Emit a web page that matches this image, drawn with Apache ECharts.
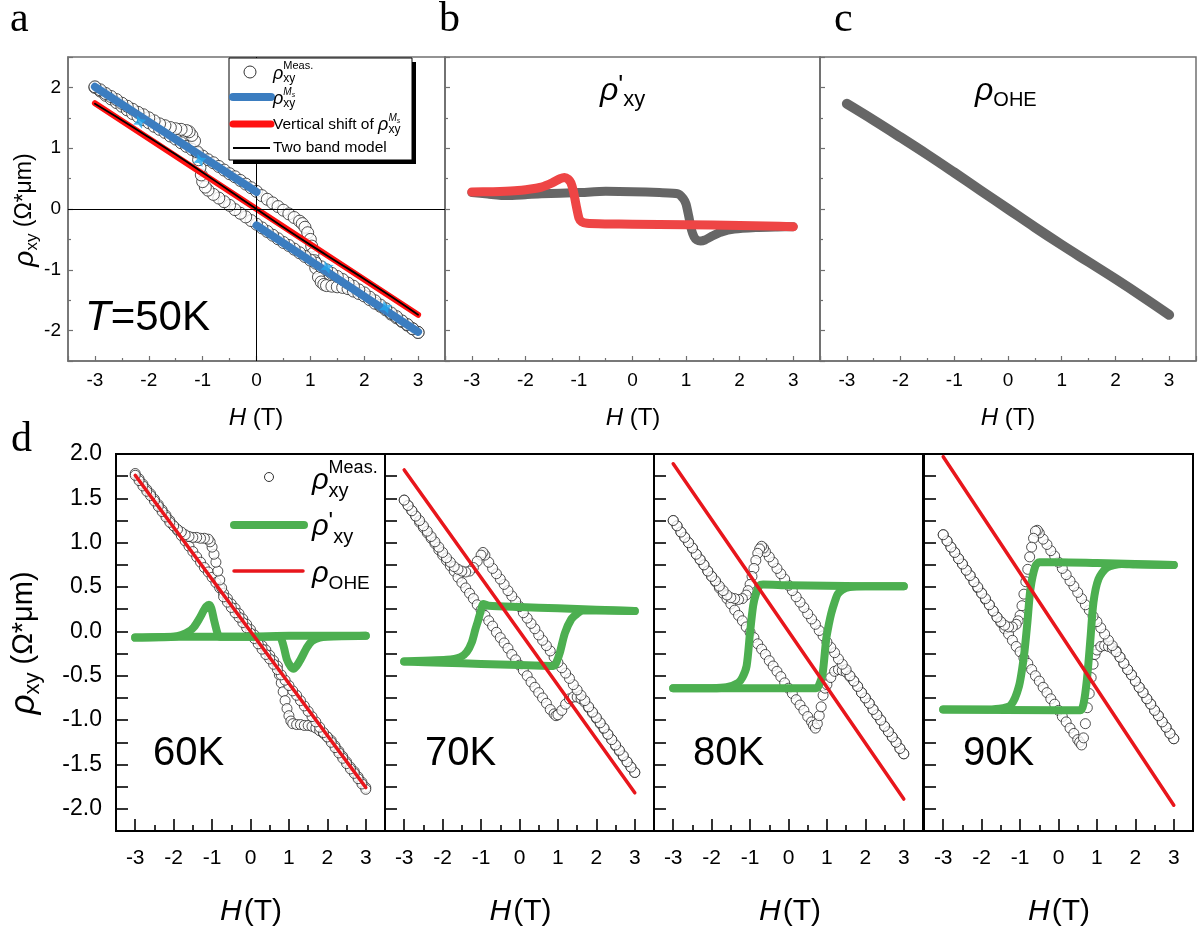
<!DOCTYPE html>
<html><head><meta charset="utf-8">
<script src="https://cdn.jsdelivr.net/npm/echarts@6/dist/echarts.min.js"></script>
<style>html,body{margin:0;padding:0;background:#fff}#c{width:1198px;height:934px}</style>
</head><body><div id="c"></div>
<script>
// ---------------- DATA ----------------
const H_GRID = [-3,-2.9,-2.8,-2.7,-2.6,-2.5,-2.4,-2.3,-2.2,-2.1,
  -2,-1.9,-1.8,-1.7,-1.6,-1.5,-1.4,-1.3,-1.2,-1.1,
  -1,-0.9,-0.8,-0.7,-0.6,-0.5,-0.4,-0.3,-0.2,-0.1,
  0,0.1,0.2,0.3,0.4,0.5,0.6,0.7,0.8,0.9,
  1,1.1,1.2,1.3,1.4,1.5,1.6,1.7,1.8,1.9,
  2,2.1,2.2,2.3,2.4,2.5,2.6,2.7,2.8,2.9,
  3];

// Panel a (T = 50 K): measured rho_xy, field sweep up / down
const M50_UP = [2.00,1.94,1.87,1.81,1.75,1.69,1.63,1.57,1.52,1.47,
  1.42,1.36,1.31,1.26,1.20,1.15,1.09,1.03,0.98,0.92,
  0.87,0.81,0.76,0.70,0.64,0.58,0.53,0.47,0.41,0.35,
  0.29,0.22,0.16,0.10,0.04,-0.02,-0.08,-0.14,-0.20,-0.30,
  -0.50,-0.97,-1.20,-1.26,-1.27,-1.28,-1.29,-1.31,-1.35,-1.39,
  -1.43,-1.49,-1.55,-1.60,-1.66,-1.73,-1.79,-1.85,-1.91,-1.97,
  -2.03];
const M50_UP_X = [[0.85,-0.24],[0.95,-0.39],[1.025,-0.61],[1.05,-0.73],[1.075,-0.85],[1.15,-1.12],[1.25,-1.24]];
const M50_DN = [2.01,1.96,1.90,1.85,1.80,1.74,1.69,1.64,1.59,1.55,
  1.50,1.45,1.40,1.37,1.34,1.32,1.31,1.29,1.21,0.94,
  0.45,0.31,0.24,0.18,0.12,0.06,-0.01,-0.07,-0.13,-0.19,
  -0.25,-0.31,-0.37,-0.43,-0.49,-0.55,-0.60,-0.66,-0.72,-0.78,
  -0.84,-0.89,-0.95,-1.00,-1.06,-1.11,-1.16,-1.22,-1.27,-1.33,
  -1.38,-1.45,-1.51,-1.58,-1.64,-1.71,-1.77,-1.84,-1.90,-1.97,
  -2.03];
const M50_DN_X = [[-0.95,0.36],[-1.025,0.56],[-1.05,0.68],[-1.075,0.81],[-1.15,1.12],[-1.25,1.27]];
const A_MS_UP = [[-3,2.01],[0,0.28]];
const A_MS_DN = [[0,-0.27],[3,-2.02]];
const A_SHIFT = [[-3,1.74],[3,-1.74]];
const A_TWOBAND = [[-3,1.73],[-2.5,1.46],[-2,1.18],[-1.5,0.895],[-1,0.60],[-0.5,0.30],[0,0],[0.5,-0.30],[1,-0.59],[1.5,-0.87],[2,-1.15],[2.5,-1.44],[3,-1.74]];
const A_MARKS = [[-2.17,1.43],[-1.05,0.80],[1.31,-0.96],[2.40,-1.62]];

// Panel b: rho'_xy at 50 K
const PB_UP = [[-3,0.27],[-2.7,0.245],[-2.35,0.22],[-2,0.235],[-1.7,0.25],[-1,0.27],[-0.5,0.29],[0,0.285],[0.5,0.27],[0.85,0.25],[0.95,0.17],[1.0,0.08],[1.05,-0.12],[1.1,-0.34],[1.15,-0.46],[1.2,-0.51],[1.27,-0.525],[1.35,-0.51],[1.5,-0.44],[1.65,-0.38],[1.9,-0.33],[2.3,-0.305],[2.7,-0.295],[3,-0.29]];
const PB_DN = [[3,-0.29],[2.5,-0.28],[2,-0.27],[1,-0.26],[0,-0.25],[-0.5,-0.245],[-0.85,-0.235],[-0.95,-0.21],[-1.0,-0.15],[-1.05,0.05],[-1.1,0.28],[-1.15,0.43],[-1.2,0.49],[-1.27,0.52],[-1.35,0.5],[-1.5,0.43],[-1.7,0.36],[-1.9,0.33],[-2.2,0.30],[-2.6,0.285],[-3,0.28]];

// Panel c: rho_OHE at 50 K
const PC_OHE = [[-3,1.73],[-2.5,1.46],[-2,1.18],[-1.5,0.895],[-1,0.60],[-0.5,0.30],[0,0],[0.5,-0.30],[1,-0.59],[1.5,-0.87],[2,-1.15],[2.5,-1.44],[3,-1.74]];

// Panel d: 60 K
const M60_UP = [1.78,1.72,1.66,1.60,1.55,1.49,1.43,1.37,1.31,1.25,
  1.19,1.14,1.08,1.02,0.96,0.90,0.84,0.78,0.72,0.67,
  0.61,0.55,0.49,0.43,0.37,0.31,0.26,0.20,0.14,0.08,
  0.02,-0.04,-0.10,-0.16,-0.21,-0.27,-0.33,-0.39,-0.58,-0.78,
  -0.95,-1.04,-1.05,-1.05,-1.06,-1.06,-1.07,-1.09,-1.12,-1.15,
  -1.19,-1.23,-1.29,-1.35,-1.41,-1.47,-1.53,-1.58,-1.64,-1.70,
  -1.76];
const M60_UP_X = [[0.75,-0.49],[0.85,-0.68],[0.95,-0.87],[1.05,-1.01]];
const M60_DN = [1.76,1.70,1.64,1.58,1.53,1.47,1.41,1.35,1.29,1.23,
  1.19,1.15,1.12,1.09,1.07,1.06,1.06,1.05,1.05,1.04,
  0.95,0.78,0.58,0.39,0.33,0.27,0.21,0.16,0.10,0.04,
  -0.02,-0.08,-0.14,-0.20,-0.26,-0.31,-0.37,-0.43,-0.49,-0.55,
  -0.61,-0.67,-0.72,-0.78,-0.84,-0.90,-0.96,-1.02,-1.08,-1.14,
  -1.19,-1.25,-1.31,-1.37,-1.43,-1.49,-1.55,-1.60,-1.66,-1.72,
  -1.78];
const M60_DN_X = [[-0.75,0.49],[-0.85,0.68],[-0.95,0.87],[-1.05,1.01]];
const P60_UP = [[-3,-0.07],[-2,-0.06],[0,-0.06],[0.75,-0.06],[0.85,-0.15],[0.95,-0.32],[1.05,-0.40],[1.12,-0.42],[1.2,-0.39],[1.3,-0.32],[1.47,-0.18],[1.6,-0.11],[1.8,-0.07],[2,-0.06],[3,-0.05]];
const P60_DN = [[3,-0.05],[2,-0.05],[1,-0.05],[0,-0.06],[-0.8,-0.06],[-0.86,-0.02],[-0.95,0.13],[-1.02,0.26],[-1.08,0.30],[-1.15,0.28],[-1.21,0.24],[-1.35,0.13],[-1.47,0.05],[-1.6,0.0],[-1.8,-0.04],[-2,-0.06],[-3,-0.07]];
const O60 = [[-3,1.76],[3,-1.76]];

// 70 K
const M70_UP = [1.48,1.42,1.36,1.30,1.23,1.17,1.11,1.05,0.99,0.92,
  0.86,0.80,0.74,0.68,0.61,0.55,0.49,0.43,0.37,0.30,
  0.24,0.18,0.12,0.06,-0.01,-0.07,-0.13,-0.19,-0.26,-0.32,
  -0.38,-0.44,-0.50,-0.57,-0.63,-0.69,-0.75,-0.81,-0.88,-0.93,
  -0.94,-0.89,-0.82,-0.76,-0.74,-0.74,-0.76,-0.80,-0.86,-0.92,
  -0.98,-1.04,-1.10,-1.16,-1.22,-1.29,-1.35,-1.41,-1.47,-1.53,
  -1.59];
const M70_UP_X = [[0.95,-0.95]];
const M70_DN = [1.48,1.42,1.36,1.30,1.25,1.19,1.13,1.07,1.01,0.95,
  0.89,0.83,0.78,0.73,0.70,0.68,0.67,0.68,0.72,0.79,
  0.86,0.86,0.78,0.71,0.65,0.59,0.53,0.46,0.40,0.34,
  0.28,0.21,0.15,0.09,0.03,-0.04,-0.10,-0.16,-0.22,-0.29,
  -0.35,-0.41,-0.47,-0.53,-0.60,-0.66,-0.72,-0.78,-0.85,-0.91,
  -0.97,-1.03,-1.09,-1.16,-1.22,-1.28,-1.34,-1.40,-1.47,-1.53,
  -1.59];
const M70_DN_X = [[-0.95,0.89]];
const P70_UP = [[-3,-0.34],[-2,-0.353],[-1,-0.366],[0,-0.379],[0.8,-0.389],[0.88,-0.39],[0.95,-0.36],[1.05,-0.24],[1.18,-0.02],[1.35,0.14],[1.5,0.2],[1.65,0.235],[2,0.235],[3,0.23]];
const P70_DN = [[3,0.23],[2,0.245],[1,0.26],[0,0.275],[-0.8,0.29],[-0.94,0.31],[-1.0,0.24],[-1.08,0.12],[-1.15,0.02],[-1.24,-0.12],[-1.37,-0.23],[-1.54,-0.29],[-1.9,-0.32],[-2.5,-0.33],[-3,-0.34]];
const O70 = [[-3,1.82],[3,-1.82]];

// 80 K
const M80_UP = [1.25,1.19,1.12,1.06,1.00,0.94,0.87,0.81,0.75,0.68,
  0.62,0.56,0.49,0.43,0.37,0.31,0.24,0.18,0.12,0.05,
  -0.01,-0.07,-0.14,-0.20,-0.26,-0.33,-0.39,-0.45,-0.51,-0.58,
  -0.64,-0.70,-0.77,-0.83,-0.89,-0.96,-1.02,-1.09,-0.95,-0.72,
  -0.60,-0.52,-0.45,-0.43,-0.44,-0.46,-0.51,-0.56,-0.62,-0.69,
  -0.75,-0.81,-0.88,-0.94,-1.00,-1.07,-1.13,-1.19,-1.25,-1.32,
  -1.38];
const M80_UP_X = [[0.65,-1.06],[0.75,-1.04],[0.85,-0.85],[0.95,-0.64]];
const M80_DN = [1.25,1.19,1.12,1.06,1.00,0.94,0.87,0.81,0.75,0.68,
  0.62,0.57,0.51,0.46,0.41,0.38,0.37,0.36,0.37,0.41,
  0.53,0.71,0.88,0.96,0.90,0.84,0.78,0.71,0.65,0.59,
  0.52,0.46,0.39,0.33,0.27,0.20,0.14,0.08,0.01,-0.05,
  -0.12,-0.18,-0.24,-0.31,-0.37,-0.43,-0.50,-0.56,-0.62,-0.69,
  -0.75,-0.81,-0.88,-0.94,-1.00,-1.07,-1.13,-1.19,-1.25,-1.32,
  -1.38];
const M80_DN_X = [[-0.65,0.94],[-0.75,0.93],[-0.85,0.80],[-0.95,0.62],[-1.05,0.46]];
const P80_UP = [[-3,-0.64],[0,-0.64],[0.72,-0.64],[0.8,-0.60],[0.89,-0.47],[0.98,-0.09],[1.05,0.08],[1.11,0.20],[1.2,0.33],[1.28,0.42],[1.4,0.47],[1.59,0.50],[2,0.51],[3,0.51]];
const P80_DN = [[3,0.51],[2,0.51],[1,0.515],[0,0.52],[-0.66,0.53],[-0.75,0.52],[-0.85,0.42],[-0.92,0.29],[-1.0,-0.01],[-1.09,-0.39],[-1.2,-0.52],[-1.31,-0.58],[-1.61,-0.63],[-2,-0.64],[-3,-0.64]];
const O80 = [[-3,1.89],[3,-1.89]];

// 90 K
const M90_UP = [1.09,1.02,0.95,0.89,0.82,0.76,0.69,0.63,0.56,0.49,
  0.43,0.36,0.30,0.23,0.16,0.10,0.03,-0.03,-0.10,-0.17,
  -0.23,-0.30,-0.36,-0.43,-0.50,-0.56,-0.63,-0.69,-0.76,-0.82,
  -0.89,-0.96,-1.02,-1.09,-1.15,-1.22,-1.28,-1.04,-0.70,-0.37,
  -0.21,-0.17,-0.16,-0.17,-0.19,-0.22,-0.29,-0.36,-0.43,-0.49,
  -0.56,-0.63,-0.69,-0.76,-0.82,-0.89,-0.95,-1.02,-1.08,-1.15,
  -1.21];
const M90_UP_X = [[0.55,-1.25],[0.65,-1.20],[0.75,-0.86],[0.85,-0.52],[0.95,-0.26]];
const M90_DN = [1.09,1.02,0.95,0.89,0.82,0.76,0.69,0.63,0.56,0.50,
  0.43,0.37,0.30,0.23,0.16,0.11,0.07,0.05,0.05,0.08,
  0.18,0.42,0.70,0.95,1.13,1.11,1.04,0.98,0.91,0.85,
  0.78,0.71,0.64,0.57,0.51,0.44,0.37,0.30,0.24,0.17,
  0.11,0.04,-0.03,-0.10,-0.16,-0.23,-0.29,-0.36,-0.43,-0.49,
  -0.56,-0.63,-0.69,-0.76,-0.82,-0.89,-0.95,-1.02,-1.08,-1.15,
  -1.21];
const M90_DN_X = [[-0.55,1.14],[-0.65,1.05],[-0.75,0.84],[-0.85,0.56],[-0.95,0.29],[-1.05,0.12]];
const P90_UP = [[-3,-0.88],[0,-0.89],[0.57,-0.89],[0.65,-0.82],[0.74,-0.54],[0.83,-0.09],[0.91,0.33],[1.04,0.59],[1.26,0.72],[1.65,0.76],[2,0.755],[3,0.75]];
const P90_DN = [[3,0.75],[2,0.76],[1,0.77],[0,0.78],[-0.5,0.78],[-0.6,0.74],[-0.73,0.48],[-0.81,0.10],[-0.90,-0.28],[-1.03,-0.62],[-1.24,-0.83],[-1.54,-0.87],[-2,-0.88],[-3,-0.88]];
const O90 = [[-3,1.97],[3,-1.96]];

const TEMPS = ['60K','70K','80K','90K'];

// ---------------- HELPERS ----------------
const FN = 'Liberation Sans';
const FONT = '"Liberation Sans", Arial, sans-serif';
const SERIF = '"Liberation Serif", "Times New Roman", serif';
const mc = document.createElement('canvas').getContext('2d');
function fnt(p){ return (p.i?'italic ':'') + p.s + 'px ' + (p.f||FONT); }
function meas(p){ mc.font = fnt(p); return mc.measureText(p.t).width; }
function layout(parts){
  let cx = 0; const xs = [];
  parts.forEach(p => {
    const px = (p.from != null) ? xs[p.from] : cx;
    xs.push(px);
    if (!p.stay) cx = Math.max(cx, px + meas(p) + (p.gap||0));
  });
  return {xs, w: cx};
}
function runEls(parts, x0, y0){
  const L = layout(parts);
  return parts.map((p,i) => ({type:'text', x: x0 + L.xs[i] + (p.dx||0), y: y0 + (p.dy||0), z:100,
    style:{text:p.t, font:fnt(p), fill:p.c||'#000', textAlign:'left', textVerticalAlign:'middle', align:'left', verticalAlign:'middle'}}));
}
const G = [];
function addRun(parts, x, y){ G.push(...runEls(parts, x, y)); }
function addRunC(parts, cx, y){ const w = layout(parts).w; G.push(...runEls(parts, cx - w/2, y)); }
function addRunRot(parts, cx, cy){ const w = layout(parts).w; G.push({type:'group', x:cx, y:cy, rotation:Math.PI/2, children: runEls(parts, -w/2, 0)}); }

function pairs(hs, ys, ex){ return hs.map((h,i)=>[h, ys[i]]).concat(ex||[]).sort((a,b)=>a[0]-b[0]); }

// ---------------- LAYOUT ----------------
const TOPG = [{left:68,width:377},{left:445,width:375},{left:820,width:376}];
const BOTG = [{left:116,width:269},{left:385,width:269},{left:654,width:269},{left:924,width:269}];
const grids = [], xAxes = [], yAxes = [];
const GREY = '#707070';
TOPG.forEach(g => grids.push({left:g.left, width:g.width, top:57, height:304, show:true, borderColor:GREY, borderWidth:1.5, backgroundColor:'transparent'}));
BOTG.forEach(g => grids.push({left:g.left, width:g.width, top:454, height:377, show:true, borderColor:'#000', borderWidth:2, backgroundColor:'transparent'}));
function intFmt(v){ return (Math.abs(v - Math.round(v)) > 1e-6 || Math.abs(v) > 3.01) ? '' : String(Math.round(v)); }
for (let g=0; g<7; g++){
  const top = g < 3, col = top ? GREY : '#000';
  xAxes.push({type:'value', gridIndex:g, min:-3.5, max:3.5, splitNumber:7,
    axisLine:{show:true, onZero:false, lineStyle:{color:col, width: top?1.5:2}},
    axisTick:{show:true, inside:true, length: top?5:12, lineStyle:{color:col, width: top?1.2:1.6}},
    minorTick:{show:true, splitNumber:2, length: top?3:6, lineStyle:{color:col, width: top?1.2:1.6}},
    axisLabel:{show:true, showMinLabel:false, showMaxLabel:false, color:'#000', fontFamily:FN, fontSize: top?19:21, margin: top?10:17, formatter:intFmt},
    splitLine:{show:false}, minorSplitLine:{show:false}});
  if (top) {
    yAxes.push({type:'value', gridIndex:g, min:-2.5, max:2.5, splitNumber:5,
      axisLine:{show:true, onZero:false, lineStyle:{color:col, width:1.5}},
      axisTick:{show:true, inside:true, length:5, lineStyle:{color:col, width:1.2}},
      minorTick:{show:true, splitNumber:2, length:3, lineStyle:{color:col, width:1.2}},
      axisLabel:{show: g===0, showMinLabel:false, showMaxLabel:false, color:'#000', fontFamily:FN, fontSize:19, margin:7,
        formatter: v => (Math.abs(v - Math.round(v)) > 1e-6 || Math.abs(v) > 2.01) ? '' : String(Math.round(v))},
      splitLine:{show:false}, minorSplitLine:{show:false}});
  } else {
    yAxes.push({type:'value', gridIndex:g, min:-2.25, max:2, splitNumber:9,
      axisLine:{show:true, onZero:false, lineStyle:{color:col, width:2}},
      axisTick:{show:true, inside:true, length:12, lineStyle:{color:col, width:1.6}},
      minorTick:{show:true, splitNumber:2, length:12, lineStyle:{color:col, width:1.6}},
      axisLabel:{show: g===3, showMinLabel:false, showMaxLabel:true, color:'#000', fontFamily:FN, fontSize:23, margin:14,
        formatter: v => (Math.abs(v*2 - Math.round(v*2)) > 1e-6 || v < -2.01) ? '' : v.toFixed(1)},
      splitLine:{show:false}, minorSplitLine:{show:false}});
  }
}

// ---------------- SERIES ----------------
function sc(g, data, size){ return {type:'scatter', xAxisIndex:g, yAxisIndex:g, data, symbol:'circle', symbolSize:size,
  itemStyle:{color:'#fff', borderColor:'#262626', borderWidth:1}, z:2, silent:true}; }
function ln(g, data, color, width, z, smooth){ return {type:'line', xAxisIndex:g, yAxisIndex:g, data, symbol:'none', showSymbol:false,
  smooth: smooth||0, lineStyle:{color, width, cap:'round', join:'round'}, z:z||3, silent:true}; }

const series = [];
// panel a
series.push({type:'line', xAxisIndex:0, yAxisIndex:0, data:[], symbol:'none', z:1, silent:true,
  markLine:{silent:true, symbol:['none','none'], label:{show:false}, animation:false,
    lineStyle:{color:'#000', width:1, type:'solid'}, data:[{xAxis:0},{yAxis:0}]}});
series.push(sc(0, pairs(H_GRID, M50_UP, M50_UP_X), 12));
series.push(sc(0, pairs(H_GRID, M50_DN, M50_DN_X).reverse(), 12));
series.push(ln(0, A_SHIFT, '#ff1010', 6, 4));
series.push(ln(0, A_TWOBAND, '#000', 1.8, 5, 0.4));
series.push(ln(0, A_MS_UP, '#3b7dc0', 8, 6));
series.push(ln(0, A_MS_DN, '#3b7dc0', 8, 6));
series.push({type:'scatter', xAxisIndex:0, yAxisIndex:0, data:A_MARKS, symbol:'path://M0,-10 L3,-3 L10,0 L3,3 L0,10 L-3,3 L-10,0 L-3,-3 Z',
  symbolSize:14, symbolRotate:20, itemStyle:{color:'#22a8ee'}, z:7, silent:true});
// panel b
series.push(ln(1, PB_UP, '#666666', 9, 3, 0.2));
series.push(ln(1, PB_DN, '#ee4545', 9, 4, 0.2));
// panel c
series.push(ln(2, PC_OHE, '#666666', 10, 3, 0.4));
// panel d
const DSETS = [
  [M60_UP, M60_UP_X, M60_DN, M60_DN_X, P60_UP, P60_DN, O60],
  [M70_UP, M70_UP_X, M70_DN, M70_DN_X, P70_UP, P70_DN, O70],
  [M80_UP, M80_UP_X, M80_DN, M80_DN_X, P80_UP, P80_DN, O80],
  [M90_UP, M90_UP_X, M90_DN, M90_DN_X, P90_UP, P90_DN, O90]
];
DSETS.forEach((d,k)=>{
  const g = 3 + k;
  series.push(sc(g, pairs(H_GRID, d[0], d[1]), 10));
  series.push(sc(g, pairs(H_GRID, d[2], d[3]).reverse(), 10));
  series.push(ln(g, d[4], '#4caf50', 8, 4, 0.25));
  series.push(ln(g, d[5], '#4caf50', 8, 4, 0.25));
  series.push(ln(g, d[6], '#e8161c', 3.5, 5));
});

// ---------------- TEXT / ANNOTATIONS ----------------
addRun([{t:'a', s:42, f:SERIF}], 10, 20);
addRun([{t:'b', s:42, f:SERIF}], 439, 20);
addRun([{t:'c', s:42, f:SERIF}], 834, 20);
addRun([{t:'d', s:42, f:SERIF}], 11, 440);
addRunRot([{t:'ρ', s:28, i:1},{t:'xy', s:17, dy:7},{t:' (Ω*μm)', s:23}], 25, 210);
addRunRot([{t:'ρ', s:35, i:1},{t:'xy', s:22, dy:9},{t:' (Ω*μm)', s:29}], 24, 643);
[256, 633, 1008].forEach(cx => addRunC([{t:'H', s:24, i:1},{t:' (T)', s:24}], cx, 418));
[250, 519.5, 789, 1058].forEach(cx => addRunC([{t:'H', s:30, i:1},{t:'(T)', s:30, dx:2}], cx, 912));
addRun([{t:'T', s:42, i:1},{t:'=50K', s:42}], 85, 318);
[153, 425, 693, 963].forEach((x,k) => addRun([{t:TEMPS[k], s:40}], x, 754));
addRun([{t:'ρ', s:32, i:1},{t:"'", s:26, dy:-5},{t:'xy', s:22, dy:9}], 600, 91);
addRun([{t:'ρ', s:32, i:1},{t:'OHE', s:20, dy:9}], 975, 91);
// legend panel a
G.push({type:'rect', z:95, shape:{x:233, y:62, width:183, height:102}, style:{fill:'#000'}});
G.push({type:'rect', z:96, shape:{x:229, y:58, width:183, height:102}, style:{fill:'#fff', stroke:'#000', lineWidth:1}});
G.push({type:'circle', z:100, shape:{cx:250, cy:72, r:6}, style:{fill:'#fff', stroke:'#333', lineWidth:1}});
addRun([{t:'ρ', s:18, i:1},{t:'Meas.', s:11, dy:-8, stay:1},{t:'xy', s:12, dy:5}], 273, 74);
G.push({type:'line', z:100, shape:{x1:233, y1:97, x2:271, y2:97}, style:{stroke:'#3b7dc0', lineWidth:8, lineCap:'round'}});
addRun([{t:'ρ', s:18, i:1},{t:'M', s:10, i:1, dy:-7},{t:'s', s:7, i:1, dy:-4},{t:'xy', s:12, dy:5, from:1}], 273, 99);
G.push({type:'line', z:100, shape:{x1:233, y1:124, x2:271, y2:124}, style:{stroke:'#ff1010', lineWidth:7, lineCap:'round'}});
addRun([{t:'Vertical shift of ', s:15.5},{t:'ρ', s:18, i:1},{t:'M', s:10, i:1, dy:-7},{t:'s', s:7, i:1, dy:-4},{t:'xy', s:12, dy:5, from:2}], 273, 125);
G.push({type:'line', z:100, shape:{x1:233, y1:148, x2:270, y2:148}, style:{stroke:'#000', lineWidth:2}});
addRun([{t:'Two band model', s:15.5}], 273, 148);
// legend panel d (60K)
G.push({type:'circle', z:100, shape:{cx:269, cy:477, r:4.5}, style:{fill:'#fff', stroke:'#333', lineWidth:1}});
addRun([{t:'ρ', s:29, i:1},{t:'Meas.', s:18, dy:-13, stay:1},{t:'xy', s:20, dy:10}], 312, 481);
G.push({type:'line', z:100, shape:{x1:234, y1:525, x2:304, y2:525}, style:{stroke:'#4caf50', lineWidth:8, lineCap:'round'}});
addRun([{t:'ρ', s:29, i:1},{t:"'", s:24, dy:-5},{t:'xy', s:20, dy:10}], 312, 527);
G.push({type:'line', z:100, shape:{x1:234, y1:571, x2:303, y2:571}, style:{stroke:'#e8161c', lineWidth:3.5, lineCap:'round'}});
addRun([{t:'ρ', s:29, i:1},{t:'OHE', s:19, dy:10}], 312, 574);

const chart = echarts.init(document.getElementById('c'), null, {renderer:'canvas'});
chart.setOption({
  animation:false, backgroundColor:'#fff',
  grid:grids, xAxis:xAxes, yAxis:yAxes, series, graphic:{elements:G}
});
</script></body></html>
